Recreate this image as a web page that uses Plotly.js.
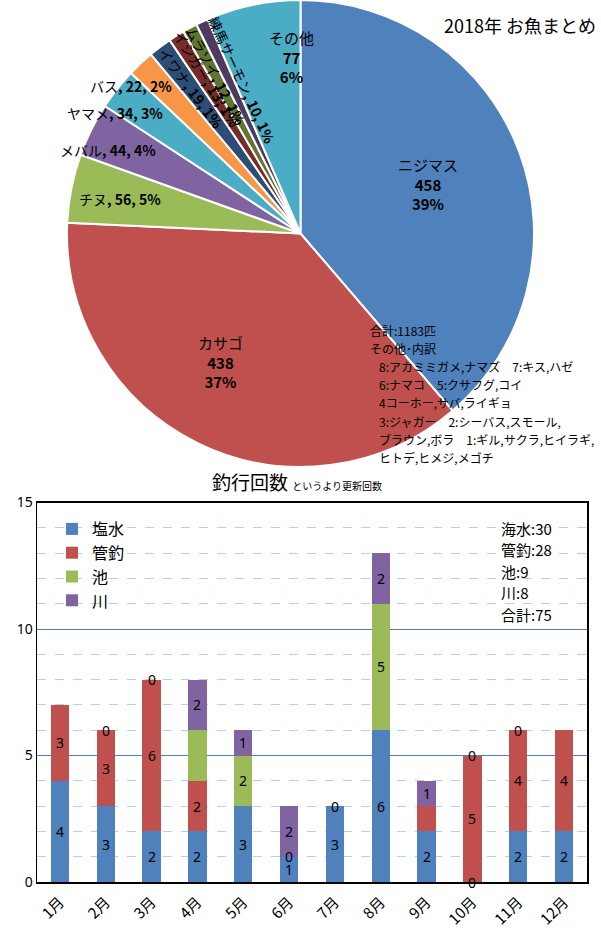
<!DOCTYPE html>
<html>
<head>
<meta charset="utf-8">
<script src="https://cdn.plot.ly/plotly-3.0.1.min.js"></script>
<style>
  html, body { margin: 0; padding: 0; background: #fff; }
  #chart { width: 601px; height: 938px; }
</style>
</head>
<body>
<div id="chart"></div>
<script>
// pie: 2018 catch by species
var fishNames = ['ニジマス','カサゴ','チヌ','メバル','ヤマメ','バス','イワナ','イシガー','ムラソイ','練馬サーモン','その他'];
var fishCounts = [458,438,56,44,34,22,19,13,12,10,77];
var fishPct = [39,37,5,4,3,2,1,1,1,1,6];

// bars: trips per month
var months = ['1月','2月','3月','4月','5月','6月','7月','8月','9月','10月','11月','12月'];
var shio  = [4,3,2,2,3,1,3,6,2,0,2,2];
var kanri = [3,3,6,2,0,0,0,0,1,5,4,4];
var ike   = [0,0,0,2,2,0,0,5,0,0,0,0];
var kawa  = [0,0,0,2,1,2,0,2,1,0,0,0];
// which data labels are shown in the original
var shioShow  = [1,1,1,1,1,1,1,1,1,1,1,1];
var kanriShow = [1,1,1,1,0,1,1,0,0,1,1,1];
var ikeShow   = [0,0,0,0,1,0,0,1,0,0,0,0];
var kawaShow  = [0,1,1,1,1,1,0,1,1,1,1,0];

var W = 601, H = 938;
var JP = 'Noto Sans CJK JP, sans-serif';
var NUM = 'Noto Sans, sans-serif';
var pieColors = ['#4F81BD','#C0504D','#9BBB59','#8064A2','#4BACC6','#F79646','#2C4D75','#772C2A','#5F7530','#4D3B62','#4BACC6'];
var barColors = ['#4F81BD','#C0504D','#9BBB59','#8064A2'];

function px(x){ return x / W; }
function py(y){ return 1 - y / H; }

var data = [{
  type: 'pie',
  values: fishCounts,
  labels: fishNames,
  sort: false,
  direction: 'clockwise',
  rotation: 0,
  textinfo: 'none',
  hoverinfo: 'label+value',
  showlegend: false,
  marker: {colors: pieColors, line: {color: '#fff', width: 2}},
  domain: {x: [0, 1], y: [py(467), 1]}
}];

var series = [['塩水', shio], ['管釣', kanri], ['池', ike], ['川', kawa]];
series.forEach(function(s, i){
  data.push({
    type: 'bar', name: s[0], x: months, y: s[1],
    marker: {color: barColors[i]},
    xaxis: 'x', yaxis: 'y', hoverinfo: 'x+y+name'
  });
});

var ann = [];

// pie labels (pixel spots)
var labelPx = [[428,184],[220,362],[120,199],[108,150],[115,113],[131,86],[191,88],[207,79],[216,76],[242,80],[291,57]];
var total = fishCounts.reduce(function(a,b){return a+b;}, 0);
var cum = 0;
fishNames.forEach(function(n, i){
  var mid = (cum + fishCounts[i] / 2) / total * 360;
  cum += fishCounts[i];
  var big = (i === 0 || i === 1 || i === 10);
  var txt = big
    ? n + '<br><b>' + fishCounts[i] + '</b><br><b>' + fishPct[i] + '%</b>'
    : n + '<b>, ' + fishCounts[i] + ', ' + fishPct[i] + '%</b>';
  var a = {
    xref: 'paper', yref: 'paper', x: px(labelPx[i][0]), y: py(labelPx[i][1]),
    xanchor: 'center', yanchor: 'middle', showarrow: false, text: txt,
    font: {family: JP, size: big ? 15 : 14, color: '#000'}
  };
  if (i >= 6 && i <= 9) a.textangle = mid - 270;
  ann.push(a);
});

ann.push({xref:'paper', yref:'paper', x: px(442), y: py(25), xanchor:'left', yanchor:'middle',
  showarrow:false, text:'2018年 お魚まとめ', font:{family: JP, size: 18, color:'#000'}});

var notes = [
  [368, '合計:1183匹'],
  [368, 'その他･内訳'],
  [377, '8:アカミミガメ,ナマズ　7:キス,ハゼ'],
  [377, '6:ナマコ　5:クサフグ,コイ'],
  [377, '4コーホー,サバ,ライギョ'],
  [377, '3:ジャガー　2:シーバス,スモール,'],
  [377, 'ブラウン,ボラ　1:ギル,サクラ,ヒイラギ,'],
  [377, 'ヒトデ,ヒメジ,メゴチ']
];
notes.forEach(function(l, k){
  ann.push({xref:'paper', yref:'paper', x: px(l[0]), y: py(330 + k * 18.2), xanchor:'left', yanchor:'middle',
    showarrow:false, text: l[1], font:{family: JP, size: 12, color:'#000'}});
});

// bar chart title
ann.push({xref:'paper', yref:'paper', x: px(210), y: py(482), xanchor:'left', yanchor:'middle',
  showarrow:false, text:'釣行回数 <span style="font-size:10px">というより更新回数</span>',
  font:{family: JP, size: 19, color:'#000'}});

// totals box
var stats = ['海水:30','管釣:28','池:9','川:8','合計:75'];
stats.forEach(function(t, k){
  ann.push({xref:'paper', yref:'paper', x: px(499), y: py(528 + k * 21.5), xanchor:'left', yanchor:'middle',
    showarrow:false, text:t, font:{family: JP, size: 15, color:'#000'}});
});

// bar data labels
var shows = [shioShow, kanriShow, ikeShow, kawaShow];
months.forEach(function(m, j){
  var base = 0;
  series.forEach(function(s, i){
    var v = s[1][j];
    if (shows[i][j]) {
      ann.push({xref:'x', yref:'y', x: m, y: base + v / 2, showarrow:false,
        text: String(v), font:{family: NUM, size: 14, color:'#000'}});
    }
    base += v;
  });
});

var layout = {
  width: W, height: H,
  margin: {l:0, r:0, t:0, b:0},
  paper_bgcolor: '#fff', plot_bgcolor: '#fff',
  font: {family: JP, color: '#000'},
  barmode: 'stack', bargap: 0.6,
  showlegend: true,
  legend: {x: px(52), y: py(512), xanchor:'left', yanchor:'top', traceorder:'normal',
    bgcolor:'rgba(0,0,0,0)', font:{family: JP, size: 16}, tracegroupgap: 0},
  xaxis: {domain: [px(37), px(587)], tickangle: -45, tickfont: {family: JP, size: 15},
    ticklabelstandoff: 4,
    showline: true, mirror: true, linecolor: '#000', linewidth: 1.5, ticks: '', fixedrange: true},
  yaxis: {domain: [py(882), py(502.5)], range: [0, 15], dtick: 5, tickfont: {family: NUM, size: 14},
    showgrid: true, gridcolor: '#4F81BD', gridwidth: 1, zeroline: false,
    minor: {dtick: 1, showgrid: true, gridcolor: '#B9CDE5', griddash: 'dash', gridwidth: 1},
    showline: true, mirror: true, linecolor: '#000', linewidth: 1.5, ticks: '', fixedrange: true},
  annotations: ann
};

Plotly.newPlot('chart', data, layout, {displayModeBar: false, staticPlot: true});
</script>
</body>
</html>
